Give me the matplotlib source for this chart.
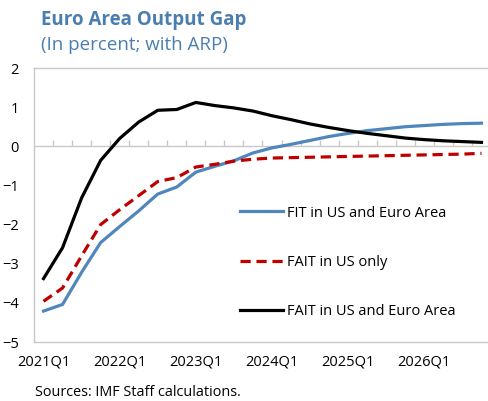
import numpy as np
import matplotlib.pyplot as plt

plt.rcParams['font.family'] = ['Open Sans', 'DejaVu Sans']

quarters = [f"{y}Q{q}" for y in range(2021, 2027) for q in range(1, 5)]

fit_us_ea = [-4.21, -4.04, -3.22, -2.46, -2.05, -1.65, -1.22, -1.04, -0.66, -0.51,
             -0.37, -0.17, -0.04, 0.05, 0.15, 0.25, 0.33, 0.40, 0.45, 0.50,
             0.53, 0.56, 0.58, 0.59]
fait_us = [-3.96, -3.62, -2.80, -2.00, -1.62, -1.26, -0.90, -0.80, -0.53, -0.46,
           -0.38, -0.33, -0.30, -0.29, -0.28, -0.27, -0.26, -0.25, -0.24, -0.23,
           -0.22, -0.21, -0.20, -0.18]
fait_us_ea = [-3.38, -2.59, -1.32, -0.36, 0.20, 0.62, 0.92, 0.94, 1.12, 1.04,
              0.98, 0.90, 0.78, 0.68, 0.57, 0.48, 0.40, 0.33, 0.27, 0.21,
              0.17, 0.14, 0.12, 0.10]

title_col = '#4a7eb0'
grey = '#c8c8c8'

fig = plt.figure(figsize=(4.88, 4.01), dpi=100)
ax = fig.add_axes([34 / 488, 1 - 342 / 401, 457 / 488, 274 / 401])

x = np.arange(len(quarters))
ax.plot(x, fit_us_ea, color='#4f86bb', lw=2.3, label='FIT in US and Euro Area')
ax.plot(x, fait_us, color='#c00000', lw=2.3, dashes=(3.2, 1.8), label='FAIT in US only')
ax.plot(x, fait_us_ea, color='black', lw=2.3, label='FAIT in US and Euro Area')

# zero line with small category ticks
ax.axhline(0, color=grey, lw=1, zorder=1)
ax.vlines(x[:-1] + 0.5, 0, 0.15, color=grey, lw=1, zorder=1)

ax.set_xlim(-0.5, len(quarters) - 0.5)
ax.set_ylim(-5, 2)
ax.set_yticks(range(-5, 3))
ax.set_xticks(x[::4])
ax.set_xticklabels(quarters[::4])
ax.tick_params(length=0, labelsize=10.5)
ax.tick_params(axis='y', pad=11)
ax.tick_params(axis='x', pad=9)

for s in ['left', 'top', 'bottom']:
    ax.spines[s].set_color(grey)
    ax.spines[s].set_linewidth(1)
ax.spines['right'].set_visible(False)

ax.legend(loc='upper left', bbox_to_anchor=(0.422, 0.546), frameon=False,
          fontsize=10.5, handlelength=2.95, handletextpad=0.27, labelspacing=2.36)

fig.text(41 / 488, 1 - 20 / 401, 'Euro Area Output Gap', color=title_col,
         fontsize=13.5, fontweight='bold', va='center')
fig.text(41 / 488, 1 - 45 / 401, '(In percent; with ARP)', color=title_col,
         fontsize=13.5, va='center')
fig.text(35 / 488, 1 - 393 / 401, 'Sources: IMF Staff calculations.',
         fontsize=10.4, va='center')

fig.savefig('out.png', dpi=100)
